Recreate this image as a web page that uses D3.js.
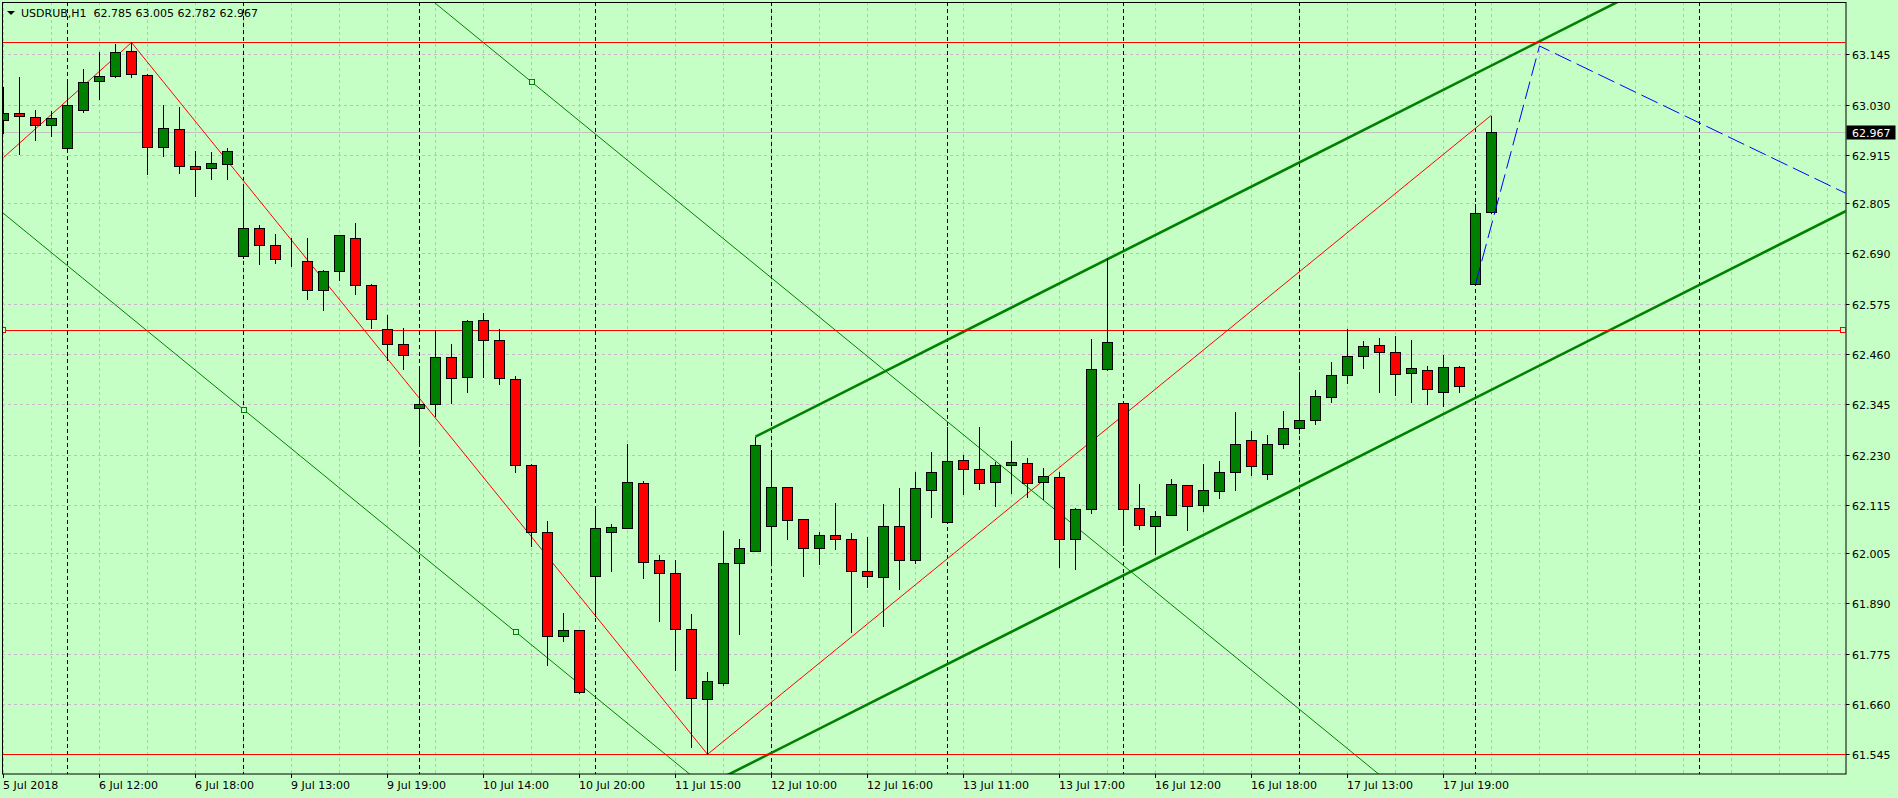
<!DOCTYPE html>
<html>
<head>
<meta charset="utf-8">
<script src="https://cdn.jsdelivr.net/npm/d3@7"></script>
<style>
  html, body { margin: 0; padding: 0; background: #c6ffc6; }
  svg { display: block; font-family: "DejaVu Sans", sans-serif; font-size: 11px; }
</style>
</head>
<body>
<svg id="chart" width="1898" height="798"></svg>
<script>
// USDRUB H1 candles (bar 0 = left edge of the window)
var opens = [62.995, 63.010, 63.001, 62.983, 62.930, 63.017, 63.085, 63.095, 63.152, 63.097,
             62.932, 62.974, 62.889, 62.884, 62.894, 62.683, 62.747, 62.708, 62.673, 62.672,
             62.606, 62.649, 62.724, 62.617, 62.516, 62.482, 62.336, 62.345, 62.452, 62.407,
             62.537, 62.491, 62.403, 62.206, 62.052, 61.815, 61.828, 61.952, 62.052, 62.063,
             62.164, 61.988, 61.959, 61.831, 61.671, 61.707, 61.982, 62.009, 62.066, 62.155,
             62.082, 62.016, 62.046, 62.036, 61.963, 61.950, 62.066, 61.988, 62.148, 62.077,
             62.217, 62.196, 62.167, 62.206, 62.210, 62.167, 62.178, 62.036, 62.105, 62.425,
             62.347, 62.107, 62.066, 62.091, 62.160, 62.114, 62.146, 62.190, 62.263, 62.185,
             62.255, 62.290, 62.310, 62.361, 62.411, 62.455, 62.480, 62.464, 62.416, 62.423,
             62.372, 62.430, 62.619, 62.785];
var highs = [63.070, 63.092, 63.018, 63.015, 63.086, 63.111, 63.150, 63.169, 63.172, 63.100,
             63.028, 63.024, 62.923, 62.921, 62.931, 62.842, 62.755, 62.734, 62.724, 62.725,
             62.652, 62.733, 62.759, 62.620, 62.549, 62.519, 62.427, 62.515, 62.483, 62.538,
             62.553, 62.516, 62.410, 62.209, 62.078, 61.868, 61.829, 62.112, 62.071, 62.254,
             62.169, 62.001, 61.989, 61.866, 61.733, 62.055, 62.037, 62.271, 62.235, 62.157,
             62.083, 62.052, 62.119, 62.050, 62.042, 62.117, 62.154, 62.190, 62.236, 62.292,
             62.228, 62.292, 62.212, 62.261, 62.222, 62.199, 62.190, 62.107, 62.494, 62.679,
             62.348, 62.163, 62.100, 62.174, 62.160, 62.208, 62.215, 62.327, 62.285, 62.275,
             62.330, 62.419, 62.378, 62.442, 62.517, 62.489, 62.497, 62.501, 62.492, 62.433,
             62.457, 62.432, 62.802, 63.005];
var lows = [62.964, 62.916, 62.950, 62.958, 62.929, 63.012, 63.043, 63.094, 63.092, 62.872,
            62.913, 62.874, 62.822, 62.861, 62.861, 62.679, 62.665, 62.669, 62.660, 62.586,
            62.561, 62.628, 62.596, 62.520, 62.446, 62.426, 62.257, 62.319, 62.349, 62.374,
            62.407, 62.391, 62.191, 62.022, 61.748, 61.803, 61.684, 61.860, 61.965, 62.063,
            61.949, 61.850, 61.738, 61.562, 61.545, 61.703, 61.821, 62.009, 61.985, 62.038,
            61.953, 61.981, 62.015, 61.825, 61.927, 61.838, 61.922, 61.982, 62.088, 62.077,
            62.139, 62.151, 62.113, 62.143, 62.132, 62.128, 61.974, 61.969, 62.096, 62.424,
            62.023, 62.061, 62.003, 62.091, 62.058, 62.102, 62.130, 62.148, 62.183, 62.175,
            62.245, 62.280, 62.300, 62.350, 62.393, 62.429, 62.372, 62.366, 62.350, 62.345,
            62.340, 62.374, 62.619, 62.782];
var closes = [63.010, 63.003, 62.983, 62.999, 63.028, 63.081, 63.095, 63.150, 63.099, 62.932,
              62.976, 62.889, 62.882, 62.896, 62.923, 62.747, 62.708, 62.676, 62.672, 62.606,
              62.649, 62.731, 62.617, 62.539, 62.482, 62.457, 62.345, 62.452, 62.404, 62.535,
              62.491, 62.404, 62.206, 62.052, 61.815, 61.828, 61.687, 62.062, 62.065, 62.167,
              61.984, 61.959, 61.831, 61.673, 61.712, 61.982, 62.016, 62.251, 62.155, 62.080,
              62.016, 62.046, 62.036, 61.963, 61.952, 62.066, 61.988, 62.153, 62.190, 62.215,
              62.196, 62.164, 62.206, 62.212, 62.164, 62.180, 62.036, 62.105, 62.425, 62.487,
              62.105, 62.068, 62.089, 62.162, 62.112, 62.148, 62.190, 62.254, 62.203, 62.255,
              62.290, 62.310, 62.364, 62.411, 62.455, 62.478, 62.464, 62.414, 62.427, 62.379,
              62.430, 62.386, 62.782, 62.967];

var priceTicks = [63.145, 63.030, 62.915, 62.805, 62.690, 62.575, 62.460, 62.345,
                  62.230, 62.115, 62.005, 61.890, 61.775, 61.660, 61.545];
var timeTickBars = [0, 6, 12, 18, 24, 30, 36, 42, 48, 54, 60, 66, 72, 78, 84, 90];
var timeTickLabels = ["5 Jul 2018", "6 Jul 12:00", "6 Jul 18:00", "9 Jul 13:00", "9 Jul 19:00",
                      "10 Jul 14:00", "10 Jul 20:00", "11 Jul 15:00", "12 Jul 10:00", "12 Jul 16:00",
                      "13 Jul 11:00", "13 Jul 17:00", "16 Jul 12:00", "16 Jul 18:00", "17 Jul 13:00",
                      "17 Jul 19:00"];
var daySeparatorBars = [4, 15, 26, 37, 48, 59, 70, 81, 92, 106];

// horizontal levels (red)
var levelPrices = [63.172, 62.514, 61.545];
// zigzag (red, thin)
var zigzagBars = [0, 8, 44, 93];
var zigzagPrices = [62.909, 63.172, 61.545, 63.006];
// falling channel (thin green): two points on lower line, one on upper
var fallBars = [15, 32, 33];
var fallPrices = [62.333, 61.825, 63.082];
// rising channel (thick green): upper line starts at bar 47, lower line through bar 72
var riseBars = [47, 90, 72];
var risePrices = [62.271, 63.064, 61.991];
// projection (blue dashed)
var projBars = [92, 96, 130];
var projPrices = [62.619, 63.164, 62.566];

var symbol = "USDRUB,H1";

var svg = d3.select("#chart");
var bg = "#c6ffc6";
var GREEN = "#008000", RED = "#ff0000";
var gridColor = "#c8b8c8";

var plotL = 2, plotR = 1845.5, plotT = 2, plotB = 774;

var x = d3.scaleLinear().domain([0, 115]).range([3.5, 3.5 + 16 * 115]);
var y = d3.scaleLinear().domain([61.545, 63.145]).range([754.3, 54.3]);
function py(v){ return Math.round(y(v)) + 0.5; }

svg.append("rect").attr("width", 1898).attr("height", 798).attr("fill", bg);

svg.append("clipPath").attr("id", "plotClip")
  .append("rect").attr("x", plotL).attr("y", plotT)
  .attr("width", plotR - plotL).attr("height", plotB - plotT);

var plot = svg.append("g").attr("clip-path", "url(#plotClip)");

// grid
var gridBars = d3.range(0, 116, 3);
plot.selectAll("line.vgrid").data(gridBars).enter().append("line")
  .attr("class", "vgrid")
  .attr("x1", function(d){ return x(d); }).attr("x2", function(d){ return x(d); })
  .attr("y1", plotT).attr("y2", plotB)
  .attr("stroke", gridColor).attr("stroke-dasharray", "3,3");
plot.selectAll("line.hgrid").data(priceTicks).enter().append("line")
  .attr("class", "hgrid")
  .attr("x1", plotL).attr("x2", plotR)
  .attr("y1", function(d){ return py(d); }).attr("y2", function(d){ return py(d); })
  .attr("stroke", gridColor).attr("stroke-dasharray", "3,3");

// period separators
plot.selectAll("line.sep").data(daySeparatorBars).enter().append("line")
  .attr("class", "sep")
  .attr("x1", function(d){ return x(d); }).attr("x2", function(d){ return x(d); })
  .attr("y1", plotT).attr("y2", plotB)
  .attr("stroke", "#000").attr("stroke-dasharray", "4,3");

// current price line
var last = closes.length - 1;
plot.append("line")
  .attr("x1", plotL).attr("x2", plotR)
  .attr("y1", py(closes[last])).attr("y2", py(closes[last]))
  .attr("stroke", "#c0c0c0");

// helper: line through two (bar, price) points, extended over [b0, b1]
function ray(ba, pa, bb, pb, b0, b1){
  var k = (pb - pa) / (bb - ba);
  return [[x(b0), y(pa + k * (b0 - ba))], [x(b1), y(pa + k * (b1 - ba))]];
}
var line = d3.line();

// falling channel
var fk = (fallPrices[1] - fallPrices[0]) / (fallBars[1] - fallBars[0]);
plot.append("path")
  .attr("d", line(ray(fallBars[0], fallPrices[0], fallBars[1], fallPrices[1], -20, 140)))
  .attr("fill", "none").attr("stroke", GREEN).attr("stroke-width", 1);
plot.append("path")
  .attr("d", line(ray(fallBars[2], fallPrices[2], fallBars[2] + 1, fallPrices[2] + fk, -20, 140)))
  .attr("fill", "none").attr("stroke", GREEN).attr("stroke-width", 1);

// rising channel
var rk = (risePrices[1] - risePrices[0]) / (riseBars[1] - riseBars[0]);
plot.append("path")
  .attr("d", line(ray(riseBars[0], risePrices[0], riseBars[1], risePrices[1], riseBars[0], 140)))
  .attr("fill", "none").attr("stroke", GREEN).attr("stroke-width", 2.6);
plot.append("path")
  .attr("d", line(ray(riseBars[2], risePrices[2], riseBars[2] + 1, risePrices[2] + rk, -20, 140)))
  .attr("fill", "none").attr("stroke", GREEN).attr("stroke-width", 2.6);

// horizontal levels
plot.selectAll("line.level").data(levelPrices).enter().append("line")
  .attr("class", "level")
  .attr("x1", plotL).attr("x2", plotR)
  .attr("y1", function(d){ return py(d); }).attr("y2", function(d){ return py(d); })
  .attr("stroke", RED);

// zigzag
plot.append("path")
  .attr("d", line(zigzagBars.map(function(b, i){ return [x(b), y(zigzagPrices[i])]; })))
  .attr("fill", "none").attr("stroke", RED).attr("stroke-width", 1);

// candles
var bars = d3.range(opens.length);
var candle = plot.selectAll("g.candle").data(bars).enter().append("g").attr("class", "candle");
candle.append("line")
  .attr("x1", function(i){ return x(i); }).attr("x2", function(i){ return x(i); })
  .attr("y1", function(i){ return Math.round(y(highs[i])); })
  .attr("y2", function(i){ return Math.round(y(lows[i])) + 1; })
  .attr("stroke", "#000");
candle.append("rect")
  .attr("x", function(i){ return x(i) - 5; })
  .attr("y", function(i){ return py(Math.max(opens[i], closes[i])); })
  .attr("width", 10)
  .attr("height", function(i){ return Math.max(0, py(Math.min(opens[i], closes[i])) - py(Math.max(opens[i], closes[i]))); })
  .attr("fill", function(i){ return closes[i] >= opens[i] ? GREEN : RED; })
  .attr("stroke", "#000");

// projection
plot.append("path")
  .attr("d", line(projBars.map(function(b, i){ return [x(b), y(projPrices[i])]; })))
  .attr("fill", "none").attr("stroke", "#0000ff").attr("stroke-dasharray", "18,6");

// anchor squares
function square(px, pyy, color){
  plot.append("rect").attr("x", Math.round(px) - 2.5).attr("y", Math.round(pyy) - 2.5)
    .attr("width", 5).attr("height", 5).attr("fill", bg).attr("stroke", color);
}
square(plotL + 1, y(levelPrices[1]), RED);
square(plotR - 3, y(levelPrices[1]), RED);
square(x(fallBars[0]), y(fallPrices[0]), GREEN);
square(x(fallBars[1]), y(fallPrices[1]), GREEN);
square(x(fallBars[2]), y(fallPrices[2]), GREEN);

// frame
svg.append("rect").attr("x", plotL + 0.5).attr("y", plotT + 0.5)
  .attr("width", plotR - plotL).attr("height", plotB - plotT - 0.5)
  .attr("fill", "none").attr("stroke", "#000");

// price axis
var pax = svg.append("g");
pax.selectAll("line").data(priceTicks).enter().append("line")
  .attr("x1", plotR + 0.5).attr("x2", plotR + 4)
  .attr("y1", function(d){ return py(d); }).attr("y2", function(d){ return py(d); })
  .attr("stroke", "#000");
pax.selectAll("text").data(priceTicks).enter().append("text")
  .attr("x", 1852).attr("y", function(d){ return py(d) + 4; })
  .attr("fill", "#000")
  .text(function(d){ return d3.format(".3f")(d); });

// current price tag
svg.append("rect").attr("x", 1846.5).attr("y", py(closes[last]) - 7)
  .attr("width", 49).attr("height", 14).attr("fill", "#000");
svg.append("text").attr("x", 1852).attr("y", py(closes[last]) + 4)
  .attr("fill", "#fff").text(d3.format(".3f")(closes[last]));

// time axis
var tax = svg.append("g");
tax.selectAll("line").data(timeTickBars).enter().append("line")
  .attr("x1", function(d){ return x(d); }).attr("x2", function(d){ return x(d); })
  .attr("y1", plotB).attr("y2", plotB + 4)
  .attr("stroke", "#000");
tax.selectAll("text").data(timeTickBars).enter().append("text")
  .attr("x", function(d){ return x(d) - 0.5; }).attr("y", 789)
  .attr("fill", "#000")
  .text(function(d, i){ return timeTickLabels[i]; });

// title
svg.append("path").attr("d", "M7,11 L15,11 L11,15 Z").attr("fill", "#000");
svg.append("text").attr("x", 21).attr("y", 17).attr("fill", "#000")
  .attr("xml:space", "preserve")
  .text(symbol + "  " + [opens[last], highs[last], lows[last], closes[last]]
    .map(d3.format(".3f")).join(" "));
</script>
</body>
</html>
